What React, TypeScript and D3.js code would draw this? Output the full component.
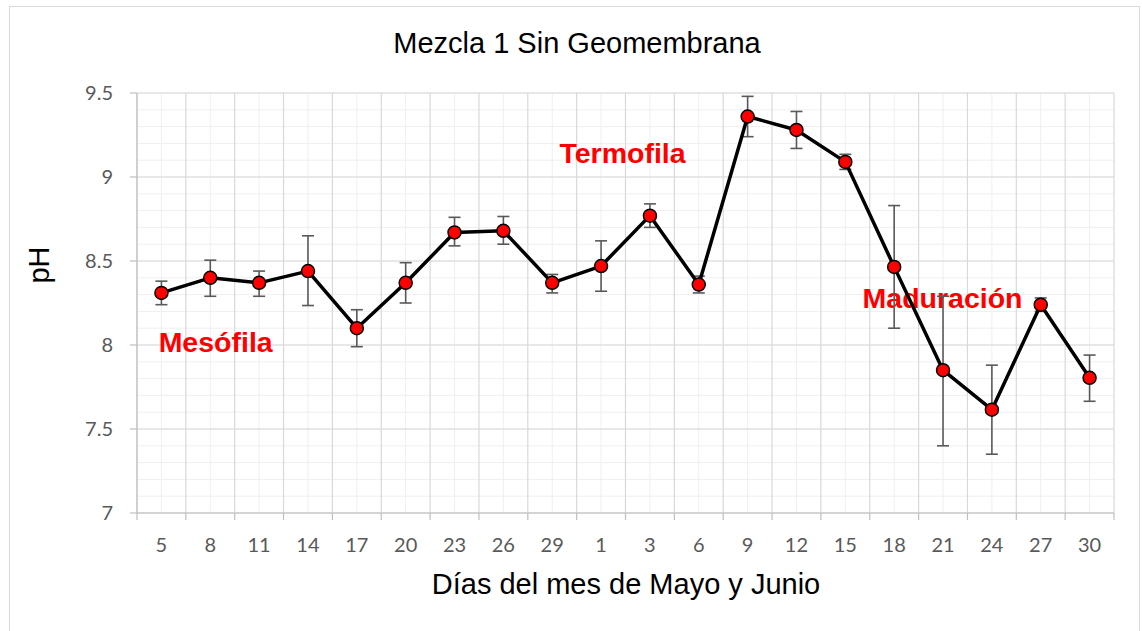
import React from "react";
import * as d3 from "d3";

const days = ["5","8","11","14","17","20","23","26","29","1","3","6","9","12","15","18","21","24","27","30"];
const phValues = [8.31,8.40,8.37,8.44,8.10,8.37,8.67,8.68,8.37,8.47,8.77,8.36,9.36,9.28,9.09,8.465,7.85,7.615,8.24,7.805];
const errUpper = [8.38,8.505,8.44,8.65,8.21,8.49,8.76,8.765,8.42,8.62,8.84,8.41,9.48,9.39,9.135,8.83,8.29,7.88,8.28,7.94];
const errLower = [8.24,8.29,8.29,8.235,7.99,8.25,8.59,8.60,8.31,8.32,8.70,8.31,9.24,9.17,9.045,8.10,7.40,7.35,8.20,7.665];
const yTicks = [7, 7.5, 8, 8.5, 9, 9.5];
const minorY = d3.range(7, 9.5001, 0.1);
const annotationTexts = ["Mesófila", "Termofila", "Maduración"];
const annotationIdx = [1.61, 9.94, 16.49];
const annotationVals = [7.96, 9.083, 8.222];

export default function App() {
  const W = 1142, H = 631;
  const left = 137, right = 1114, top = 93, bottom = 513;
  const x = d3.scaleBand<string>().domain(days).range([left, right]).paddingInner(0).paddingOuter(0);
  const xIdx = d3.scaleLinear().domain([0, days.length]).range([left, right]);
  const y = d3.scaleLinear().domain([7, 9.5]).range([bottom, top]);
  const bw = x.bandwidth();
  const cx = (d: string) => (x(d) as number) + bw / 2;
  const line = d3.line<number>().x((_, i) => cx(days[i])).y((v) => y(v));
  const boundaries = days.map((d) => x(d) as number).concat([right]);
  const gray = "#595959";
  const tickFont = "Lato, 'Open Sans', sans-serif";
  const arial = "'Liberation Sans', Arial, sans-serif";

  return (
    <svg width={W} height={H} style={{ position: "absolute", left: 0, top: 0 }}>
      <rect x={0} y={0} width={W} height={H} fill="#fff" />
      <rect x={9.5} y={6.5} width={W - 12} height={H - 4} fill="none" stroke="#d9d9d9" strokeWidth={1} />
      {minorY.map((v, i) => (
        <line key={"mh" + i} x1={left} x2={right} y1={y(v)} y2={y(v)} stroke="#efefef" strokeWidth={1} />
      ))}
      {days.map((d) => (
        <line key={"mv" + d} x1={cx(d)} x2={cx(d)} y1={top} y2={bottom} stroke="#efefef" strokeWidth={1} />
      ))}
      {yTicks.map((v) => (
        <line key={"h" + v} x1={left} x2={right} y1={y(v)} y2={y(v)} stroke="#d9d9d9" strokeWidth={1.2} />
      ))}
      {boundaries.map((b, i) => (
        <line key={"v" + i} x1={b} x2={b} y1={top} y2={bottom} stroke="#d9d9d9" strokeWidth={1.2} />
      ))}
      <line x1={left} x2={left} y1={top} y2={bottom} stroke="#bfbfbf" strokeWidth={1.2} />
      <line x1={left} x2={right} y1={bottom} y2={bottom} stroke="#bfbfbf" strokeWidth={1.2} />
      {yTicks.map((v) => (
        <g key={"yt" + v}>
          <line x1={left - 7} x2={left} y1={y(v)} y2={y(v)} stroke="#bfbfbf" strokeWidth={1.2} />
          <text x={113} y={y(v) + 7} textAnchor="end" fontFamily={tickFont} fontSize={20} fill={gray}>
            {d3.format("")(v)}
          </text>
        </g>
      ))}
      {boundaries.map((b, i) => (
        <line key={"xt" + i} x1={b} x2={b} y1={bottom} y2={bottom + 7} stroke="#bfbfbf" strokeWidth={1.2} />
      ))}
      {days.map((d) => (
        <text key={"xl" + d} x={cx(d)} y={552} textAnchor="middle" fontFamily={tickFont} fontSize={20} fill={gray}>
          {d}
        </text>
      ))}
      <text x={577} y={53} textAnchor="middle" fontFamily={arial} fontSize={29} fill="#000">
        Mezcla 1 Sin Geomembrana
      </text>
      <text x={626} y={594} textAnchor="middle" fontFamily={arial} fontSize={29} fill="#000">
        Días del mes de Mayo y Junio
      </text>
      <text transform={`translate(49,265) rotate(-90)`} textAnchor="middle" fontFamily={arial} fontSize={29} fill="#000">
        pH
      </text>
      {annotationTexts.map((t, i) => (
        <text key={t} x={xIdx(annotationIdx[i])} y={y(annotationVals[i])} textAnchor="middle" fontFamily={arial} fontWeight="bold" fontSize={28.5} fill="#ff0000">
          {t}
        </text>
      ))}
      {days.map((d, i) => (
        <g key={"e" + d} stroke={gray} strokeWidth={1.6}>
          <line x1={cx(d)} x2={cx(d)} y1={y(errUpper[i])} y2={y(errLower[i])} />
          <line x1={cx(d) - 6} x2={cx(d) + 6} y1={y(errUpper[i])} y2={y(errUpper[i])} />
          <line x1={cx(d) - 6} x2={cx(d) + 6} y1={y(errLower[i])} y2={y(errLower[i])} />
        </g>
      ))}
      <path d={line(phValues) || ""} fill="none" stroke="#000" strokeWidth={3.5} strokeLinejoin="round" />
      {phValues.map((v, i) => (
        <circle key={"p" + i} cx={cx(days[i])} cy={y(v)} r={6.5} fill="#ff0000" stroke="#000" strokeWidth={1.5} />
      ))}
    </svg>
  );
}
